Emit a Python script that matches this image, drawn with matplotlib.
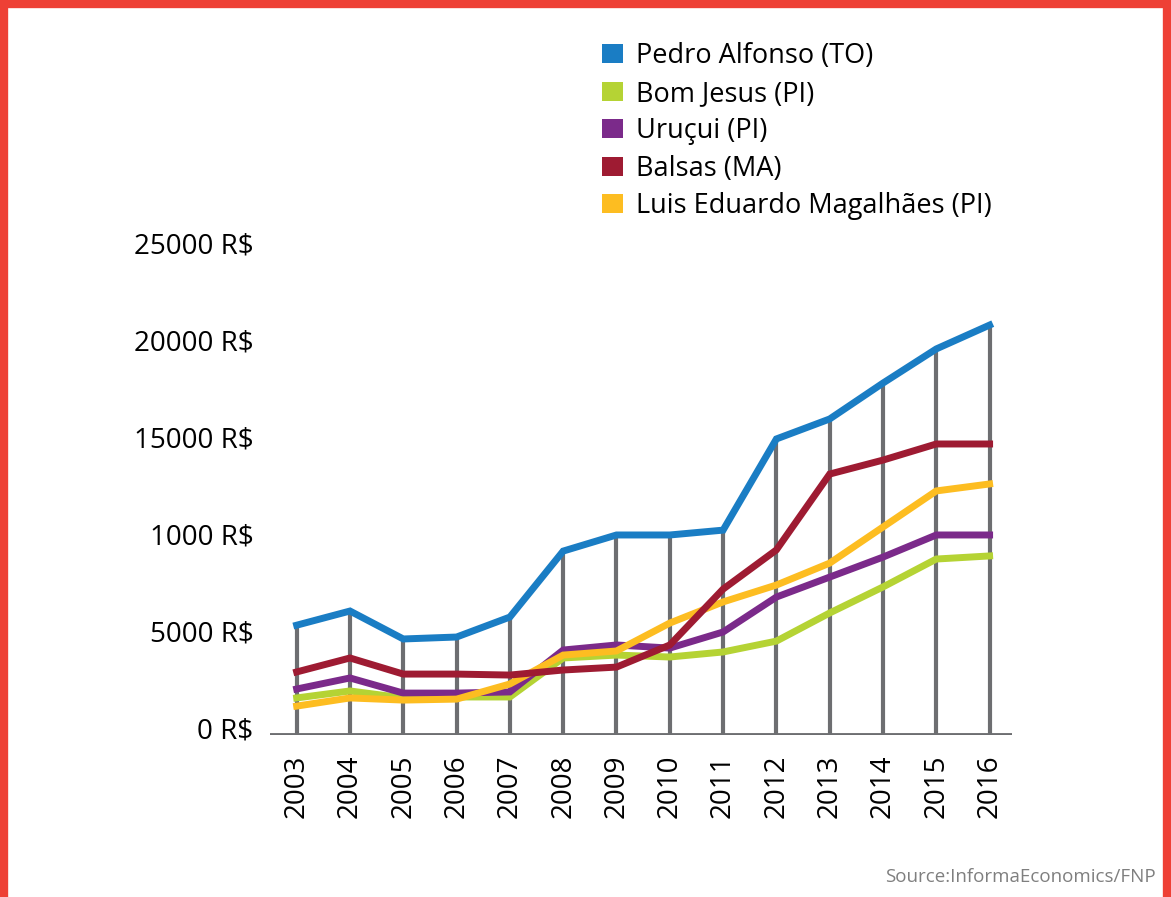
import numpy as np
import matplotlib.pyplot as plt
from matplotlib.patches import Rectangle, Patch

years = list(range(2003, 2017))
pedro = [5300, 6030, 4590, 4690, 5720, 9120, 9950, 9950, 10200, 14900, 15930, 17780, 19540, 20770]
bom_jesus = [1550, 1910, 1550, 1600, 1600, 3610, 3760, 3660, 3920, 4480, 5930, 7270, 8710, 8870]
urucui = [2010, 2580, 1800, 1800, 1860, 4020, 4280, 4120, 4950, 6750, 7780, 8810, 9950, 9950]
balsas = [2890, 3610, 2780, 2780, 2730, 2990, 3140, 4280, 7160, 9180, 13090, 13810, 14640, 14640]
luis = [1130, 1550, 1440, 1490, 2270, 3760, 3970, 5410, 6500, 7370, 8500, 10360, 12220, 12580]

names = ["Pedro Alfonso (TO)", "Bom Jesus (PI)", "Uruçui (PI)", "Balsas (MA)", "Luis Eduardo Magalhães (PI)"]
colors = ["#1a7dc4", "#b5d334", "#7b2a8a", "#9e1b32", "#fdbd21"]
yticks = [0, 5000, 10000, 15000, 20000, 25000]
ylabels = ["0 R$", "5000 R$", "1000 R$", "15000 R$", "20000 R$", "25000 R$"]

plt.rcParams['font.family'] = ['Open Sans', 'DejaVu Sans']

fig = plt.figure(figsize=(11.71, 8.97), dpi=100)
ax = fig.add_axes([0.2306, 0.1806, 0.6336, 0.5485])

bottom = -360
gray = "#6d6e71"
ax.vlines(years, bottom, pedro, color=gray, lw=3, zorder=1)
ax.axhline(bottom, color=gray, lw=3.5, zorder=1)

series = [pedro, bom_jesus, urucui, balsas, luis]
draw_order = [1, 2, 4, 3, 0]
for i in draw_order:
    ax.plot(years, series[i], color=colors[i], lw=5, solid_joinstyle='miter', zorder=3)

ax.set_xlim(2002.5, 2016.42)
ax.set_ylim(bottom, 25000)
for s in ax.spines.values():
    s.set_visible(False)
ax.set_xticks(years)
ax.set_xticklabels([str(y) for y in years], rotation=90, fontsize=20)
ax.set_yticks(yticks)
ax.set_yticklabels(ylabels, fontsize=20)
ax.tick_params(length=0, pad=12)
ax.tick_params(axis='x', pad=14)

handles = [Patch(facecolor=c, edgecolor='none') for c in colors]
fig.legend(handles, names, loc='upper left', bbox_to_anchor=(0.505, 0.965),
           frameon=False, fontsize=19.5, handlelength=0.75, handleheight=0.7,
           handletextpad=0.5, labelspacing=0.35, borderaxespad=0)

fig.text(0.987, 0.012, "Source:InformaEconomics/FNP", ha='right', va='bottom',
         fontsize=13.5, color="#7f7f7f")

fig.patches.append(Rectangle((0.003, -0.05), 0.994, 1.045, transform=fig.transFigure,
                             fill=False, edgecolor="#ee4035", lw=6))

fig.savefig("out.png", dpi=100, facecolor="white")
